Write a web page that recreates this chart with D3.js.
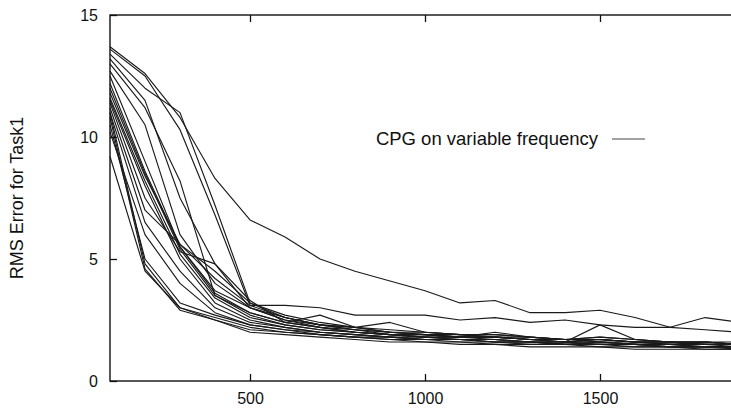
<!DOCTYPE html>
<html lang="en">
<head>
<meta charset="UTF-8">
<title>RMS Error for Task1</title>
<script src="https://d3js.org/d3.v7.min.js"></script>
<style>
  body { margin: 0; background: #fff; }
  svg { display: block; font-family: "Liberation Sans", Arial, Helvetica, sans-serif; }
  .run { fill: none; stroke: #1a1a1a; stroke-width: 1.15; stroke-linejoin: round; }
  .axis text { font-size: 16px; fill: #111; }
  .axis line { stroke: #111; stroke-width: 1.3; }
  .axis path { display: none; }
</style>
</head>
<body>
<div id="chart"></div>
<script>
// training iterations (x) and per-run RMS error (y)
var iterations = [100, 200, 300, 400, 500, 600, 700, 800, 900, 1000,
                  1100, 1200, 1300, 1400, 1500, 1600, 1700, 1800, 1900, 2000];

var runs = [
  [13.7, 12.6, 10.8, 8.3, 6.6, 5.9, 5.0, 4.5, 4.1, 3.7, 3.2, 3.3, 2.8, 2.8, 2.9, 2.6, 2.2, 2.6, 2.4, 2.3],
  [13.6, 12.5, 10.3, 6.8, 3.1, 3.1, 3.0, 2.7, 2.7, 2.7, 2.5, 2.6, 2.4, 2.5, 2.3, 2.2, 2.2, 2.1, 2.0, 2.0],
  [13.4, 12.0, 11.0, 7.2, 3.2, 2.6, 2.3, 2.1, 2.0, 1.9, 1.9, 1.8, 1.8, 1.7, 1.7, 1.6, 1.6, 1.5, 1.5, 1.5],
  [13.2, 11.5, 7.5, 4.8, 3.0, 2.5, 2.2, 2.1, 1.9, 1.9, 1.8, 1.8, 1.7, 1.6, 1.7, 1.6, 1.5, 1.5, 1.5, 1.4],
  [13.0, 11.2, 8.2, 3.5, 2.8, 2.4, 2.7, 2.2, 2.0, 1.9, 1.8, 1.8, 1.7, 1.7, 1.6, 1.6, 1.5, 1.6, 1.5, 1.5],
  [12.7, 10.5, 6.0, 4.0, 3.0, 2.6, 2.3, 2.2, 2.4, 2.0, 1.9, 1.9, 1.8, 1.7, 1.8, 1.7, 1.6, 1.6, 1.5, 1.5],
  [12.5, 9.0, 5.5, 3.6, 2.8, 2.4, 2.2, 2.0, 1.9, 1.8, 1.8, 2.0, 1.8, 1.7, 1.7, 1.6, 1.6, 1.5, 1.5, 1.5],
  [12.2, 8.6, 5.5, 3.7, 3.0, 2.5, 2.3, 2.1, 2.0, 1.9, 1.8, 1.8, 1.7, 1.6, 2.3, 1.7, 1.6, 1.6, 1.5, 1.5],
  [12.0, 8.5, 5.4, 3.5, 2.7, 2.3, 2.1, 2.0, 1.9, 1.8, 1.8, 1.7, 1.6, 1.6, 1.6, 1.5, 1.5, 1.5, 1.4, 1.4],
  [11.8, 8.4, 5.6, 4.5, 3.2, 2.7, 2.4, 2.2, 2.1, 2.0, 1.9, 1.9, 1.8, 1.7, 1.8, 1.7, 1.6, 1.6, 1.6, 1.5],
  [11.6, 8.2, 5.2, 3.4, 2.6, 2.3, 2.1, 2.0, 1.9, 1.8, 1.7, 1.7, 1.6, 1.6, 1.5, 1.5, 1.5, 1.4, 1.4, 1.4],
  [11.5, 8.0, 5.0, 3.2, 2.5, 2.2, 2.0, 1.9, 1.8, 1.7, 1.7, 1.6, 1.6, 1.5, 1.5, 1.5, 1.4, 1.4, 1.4, 1.3],
  [11.4, 7.5, 5.3, 4.8, 3.3, 2.4, 2.2, 2.0, 1.9, 1.9, 1.8, 1.8, 1.7, 1.6, 1.7, 1.6, 1.6, 1.5, 1.5, 1.5],
  [11.2, 7.0, 5.6, 4.2, 3.1, 2.6, 2.3, 2.2, 2.0, 2.0, 1.9, 1.8, 1.7, 1.7, 1.7, 1.6, 1.6, 1.6, 1.5, 1.5],
  [11.0, 4.8, 3.0, 2.6, 2.2, 2.0, 1.9, 1.8, 1.7, 1.6, 1.6, 1.5, 1.5, 1.5, 1.4, 1.4, 1.4, 1.3, 1.3, 1.3],
  [10.8, 4.6, 2.9, 2.5, 2.0, 1.9, 1.8, 1.7, 1.6, 1.6, 1.5, 1.5, 1.4, 1.4, 1.4, 1.3, 1.3, 1.3, 1.3, 1.3],
  [10.5, 5.0, 3.2, 2.7, 2.3, 2.1, 1.9, 1.8, 1.8, 1.7, 1.7, 1.6, 1.6, 1.5, 1.5, 1.5, 1.4, 1.4, 1.4, 1.4],
  [11.0, 6.5, 4.5, 3.0, 2.4, 2.2, 2.0, 1.9, 1.8, 1.8, 1.7, 1.7, 1.6, 1.6, 1.6, 1.5, 1.5, 1.4, 1.4, 1.4],
  [9.2, 4.5, 3.0, 2.5, 2.1, 2.0, 1.9, 1.8, 1.7, 1.7, 1.6, 1.6, 1.5, 1.5, 1.5, 1.4, 1.4, 1.4, 1.3, 1.3],
  [10.2, 6.0, 4.0, 2.8, 2.3, 2.1, 2.0, 1.9, 1.8, 1.7, 1.7, 1.6, 1.6, 1.5, 1.6, 1.5, 1.4, 1.4, 1.4, 1.4]
];

var xTicks = [500, 1000, 1500];
var yTicks = [0, 5, 10, 15];
var yLabel = "RMS Error for Task1";
var legendLabel = "CPG on variable frequency";

var width = 731, height = 409;
// the plot runs past the right edge of the picture, like the original crop
var plot = {left: 110, top: 15, right: 775, bottom: 381};

var svg = d3.select("#chart").append("svg")
    .attr("width", width)
    .attr("height", height);

var x = d3.scaleLinear().domain([100, 2000]).range([plot.left, plot.right]);
var y = d3.scaleLinear().domain([0, 15]).range([plot.bottom, plot.top]);

var line = d3.line()
    .x(function(d, i) { return x(iterations[i]); })
    .y(function(d) { return y(d); });

// the runs
svg.append("g")
  .selectAll("path")
  .data(runs)
  .enter().append("path")
    .attr("class", "run")
    .attr("d", line);

// frame
svg.append("rect")
    .attr("x", plot.left)
    .attr("y", plot.top)
    .attr("width", plot.right - plot.left)
    .attr("height", plot.bottom - plot.top)
    .attr("fill", "none")
    .attr("stroke", "#111")
    .attr("stroke-width", 1.4);

// axes, ticks pointing inwards
svg.append("g")
    .attr("class", "axis")
    .attr("transform", "translate(0," + plot.bottom + ")")
    .call(d3.axisBottom(x).tickValues(xTicks).tickSizeInner(-7).tickSizeOuter(0)
      .tickPadding(12).tickFormat(d3.format("d")));

svg.append("g")
    .attr("class", "axis")
    .attr("transform", "translate(0," + plot.top + ")")
    .call(d3.axisTop(x).tickValues(xTicks).tickSizeInner(-7).tickSizeOuter(0).tickFormat(""));

svg.append("g")
    .attr("class", "axis")
    .attr("transform", "translate(" + plot.left + ",0)")
    .call(d3.axisLeft(y).tickValues(yTicks).tickSizeInner(-7).tickSizeOuter(0).tickPadding(12));

// y label
svg.append("text")
    .attr("transform", "translate(23," + 198 + ") rotate(-90)")
    .attr("text-anchor", "middle")
    .style("font-size", "18px")
    .style("fill", "#111")
    .text(yLabel);

// legend
svg.append("text")
    .attr("x", 598)
    .attr("y", 145)
    .attr("text-anchor", "end")
    .style("font-size", "18.5px")
    .style("fill", "#111")
    .text(legendLabel);

svg.append("line")
    .attr("x1", 612)
    .attr("x2", 645)
    .attr("y1", 139)
    .attr("y2", 139)
    .attr("stroke", "#444")
    .attr("stroke-width", 1);
</script>
</body>
</html>
